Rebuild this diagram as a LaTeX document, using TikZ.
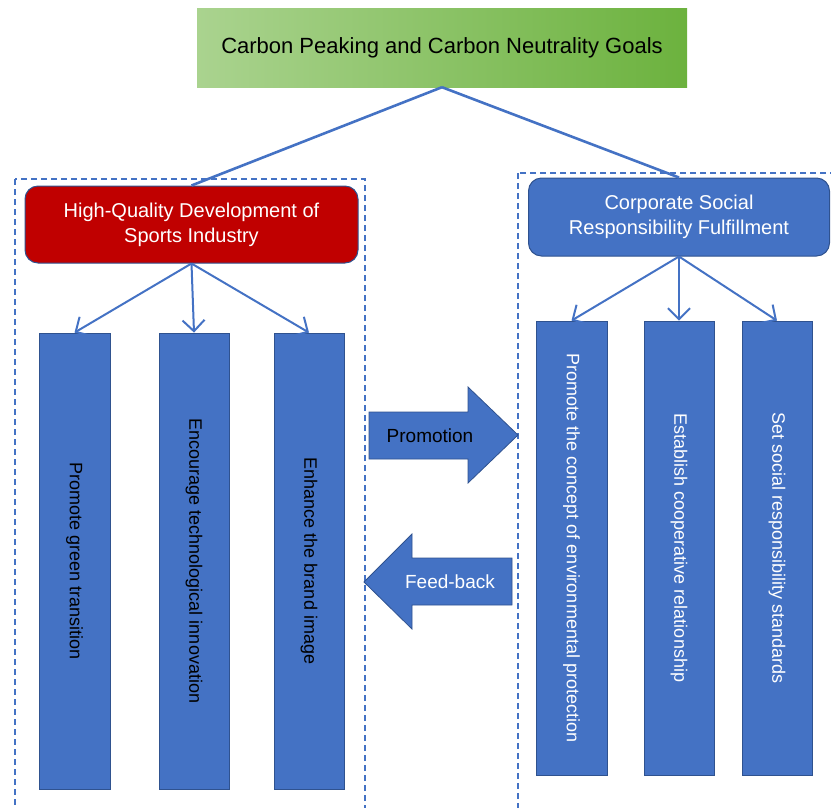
\documentclass[tikz,border=0pt]{standalone}
\usepackage{fontspec}
\setmainfont{Liberation Sans}
\usetikzlibrary{arrows.meta,positioning}
\definecolor{officeblue}{HTML}{4472C4}
\definecolor{edgeblue}{HTML}{2F528F}
\definecolor{darkred}{HTML}{C00000}
\definecolor{lightgreen}{HTML}{AAD38F}
\definecolor{deepgreen}{HTML}{6CB23E}

\begin{document}
\begin{tikzpicture}[
  x=1pt, y=-1pt,
  font=\fontsize{20}{25}\selectfont,
  goal/.style={left color=lightgreen, right color=deepgreen, minimum width=490pt, minimum height=79pt, inner sep=0pt, font=\fontsize{22}{26}\selectfont},
  dev/.style={draw=edgeblue, line width=1pt, rounded corners=13pt, fill=darkred, text=white, align=center, minimum width=333pt, minimum height=77pt},
  csr/.style={draw=edgeblue, line width=1pt, rounded corners=13pt, fill=officeblue, text=white, align=center, minimum width=301pt, minimum height=78pt},
  bar/.style={draw=edgeblue, line width=0.8pt, fill=officeblue, rotate=-90, inner sep=0pt, font=\fontsize{18}{22}\selectfont},
  frame/.style={draw=officeblue, line width=1.6pt, dash pattern=on 6pt off 4pt},
  blockarrow/.style={draw=edgeblue, line width=0.8pt, fill=officeblue},
  link/.style={draw=officeblue, line width=2.6pt},
  arrow/.style={draw=officeblue, line width=2pt, -{Straight Barb[length=11pt,width=22pt,line width=2pt]}}
]
\clip (0,0) rectangle (831,807);

% dashed groups
\draw[frame] (15,179) rectangle (365,820);
\draw[frame] (518,173) rectangle (840,820);

% goal and the two sides
\node[goal] (goal) at (442,47.5) {Carbon Peaking and Carbon Neutrality Goals};
\node[dev] (dev) at (191.5,224.5) {High-Quality Development of\\Sports Industry};
\node[csr] (csr) at (679,217) {Corporate Social\\Responsibility Fulfillment};

% left measures
\node[bar, minimum width=456pt, minimum height=71pt] (lb1) at (74.5,561) {Promote green transition};
\node[bar, minimum width=456pt, minimum height=70pt] (lb2) at (194,561) {Encourage technological innovation};
\node[bar, minimum width=456pt, minimum height=70pt] (lb3) at (309,561) {Enhance the brand image};

% right measures
\node[bar, text=white, minimum width=454pt, minimum height=71pt] (rb1) at (571.5,548) {Promote the concept of environmental protection};
\node[bar, text=white, minimum width=454pt, minimum height=70pt] (rb2) at (679,548) {Establish cooperative relationship};
\node[bar, text=white, minimum width=454pt, minimum height=70pt] (rb3) at (777,548) {Set social responsibility standards};

\draw[link] (goal.south) -- (dev.north);
\draw[link] (goal.south) -- (csr.north);
\foreach \x in {lb1,lb2,lb3} \draw[arrow] (dev.south) -- (\x.west);
\foreach \x in {rb1,rb2,rb3} \draw[arrow] (csr.south) -- (\x.west);

% promotion and feed-back
\draw[blockarrow] (369,412) -- (468,412) -- (468,387) -- (518,435) -- (468,483) -- (468,459) -- (369,459) -- cycle;
\node[font=\fontsize{19}{23}\selectfont] (promo) at (430,435.5) {Promotion};
\draw[blockarrow] (512,558) -- (412,558) -- (412,534) -- (364,582) -- (412,629) -- (412,605) -- (512,605) -- cycle;
\node[font=\fontsize{19}{23}\selectfont, text=white] (feed) at (450,582) {Feed-back};
\end{tikzpicture}
\end{document}
